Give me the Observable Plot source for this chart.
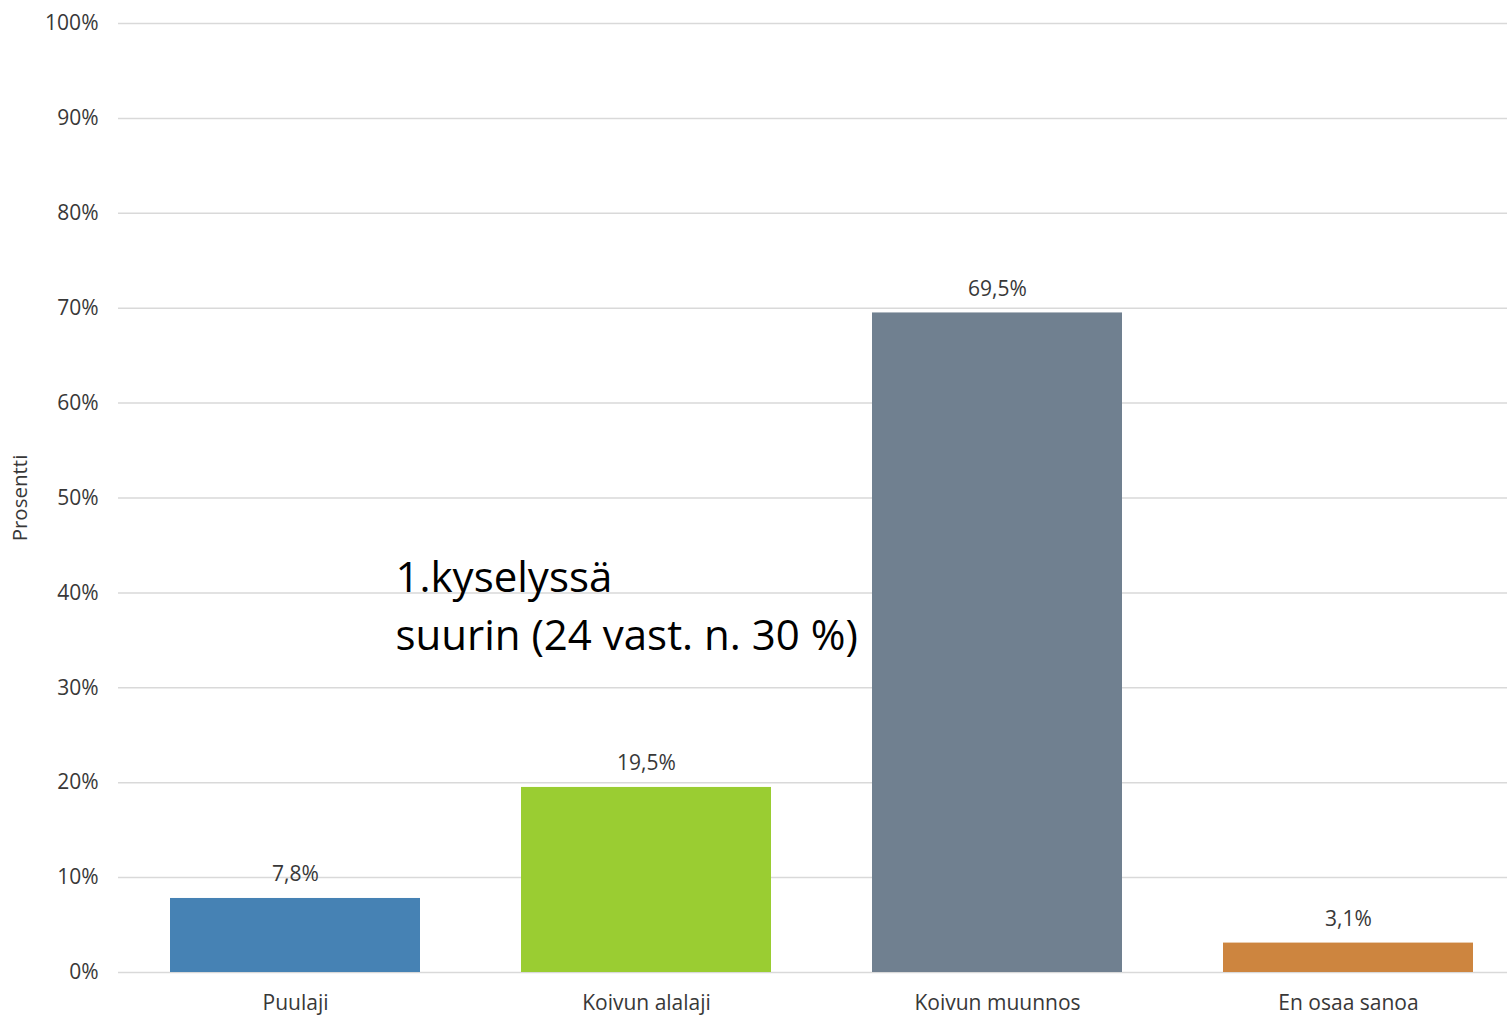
<!DOCTYPE html>
<html>
<head>
<meta charset="utf-8">
<script src="https://cdn.jsdelivr.net/npm/d3@7"></script>
<script src="https://cdn.jsdelivr.net/npm/@observablehq/plot@0.6"></script>
<style>
  html, body { margin: 0; padding: 0; background: #fff; overflow: hidden; }
  #chart svg { display: block; }
</style>
</head>
<body>
<div id="chart"></div>
<script>
const categories = ["Puulaji", "Koivun alalaji", "Koivun muunnos", "En osaa sanoa"];
const values = [7.8, 19.5, 69.5, 3.1];
const colors = ["#4682B4", "#9ACD32", "#708090", "#CD853F"];
const yTicks = [0, 10, 20, 30, 40, 50, 60, 70, 80, 90, 100];
const annotationText = ["1.kyselyssä\nsuurin (24 vast. n. 30 %)"];
const annotationCategory = ["Koivun alalaji"];
const annotationValue = [39.0];

const data = categories.map((c, i) => ({ category: c, value: values[i], color: colors[i] }));
const fmt = v => d3.format(".1f")(v).replace(".", ",") + "%";

const W = 1507, H = 1018;
const mL = 118, mT = 23, mB = 46;
const step = 351;
const x0 = 119.5;
const txt = "#383838";

const plot = Plot.plot({
  width: W,
  height: H,
  marginLeft: mL,
  marginRight: 0,
  marginTop: mT,
  marginBottom: mB,
  style: { fontFamily: "'Open Sans', sans-serif", fontSize: "21px", color: txt, background: "#fff" },
  x: { domain: categories, range: [x0, x0 + step * categories.length], paddingInner: 0.288, paddingOuter: 0.144, label: null },
  y: { domain: [0, 100], label: null },
  marks: [
    Plot.gridY(yTicks, { stroke: "#d9d9d9", strokeOpacity: 1, strokeWidth: 1.5 }),
    Plot.barY(data, { x: "category", y: "value", fill: "color" }),
    Plot.text(data, { x: "category", y: "value", text: d => fmt(d.value), lineAnchor: "bottom", dy: -17, fontSize: 21, fill: txt }),
    Plot.axisY(yTicks, { tickSize: 0, tickPadding: 20, tickFormat: d => d + "%", fontSize: 21, fill: txt }),
    Plot.axisX({ tickSize: 0, tickPadding: 23, fontSize: 21, fill: txt }),
    Plot.text(annotationText, {
      x: annotationCategory, y: annotationValue, text: d => d,
      textAnchor: "start", dx: -251, lineAnchor: "middle", lineHeight: 1.38,
      fontSize: 42, fill: "#000", fontFamily: "'Open Sans', sans-serif"
    }),
    Plot.text(["Prosentti"], { frameAnchor: "left", dx: -98, rotate: -90, textAnchor: "middle", text: d => d, fontSize: 20.5, fill: txt })
  ]
});
document.getElementById("chart").appendChild(plot);
</script>
</body>
</html>
